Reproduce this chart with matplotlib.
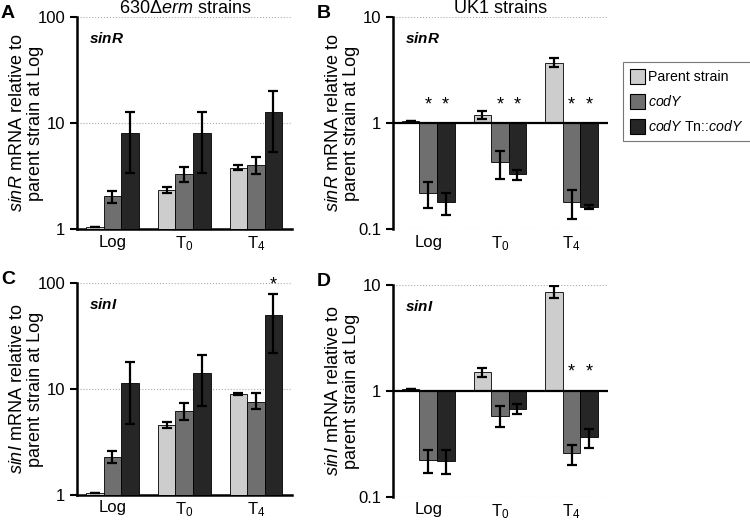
import matplotlib.pyplot as plt
import numpy as np
from matplotlib.patches import Patch

plt.rcParams['font.family'] = ['Liberation Sans', 'DejaVu Sans']
plt.rcParams['mathtext.fontset'] = 'custom'
plt.rcParams['mathtext.rm'] = 'Liberation Sans'
plt.rcParams['mathtext.it'] = 'Liberation Sans:italic'
plt.rcParams['mathtext.bf'] = 'Liberation Sans:bold:italic'

groups = ['Log', r'T$_{\mathregular{0}}$', r'T$_{\mathregular{4}}$']
strains = ['Parent strain', r'$\mathit{codY}$', r'$\mathit{codY}$ Tn::$\mathit{codY}$']
colors = ['#cdcdcd', '#6f6f6f', '#262626']

# panel A: 630derm sinR  (rows = strain, cols = Log, T0, T4)
a_val = [[1.05, 2.35, 3.8], [2.05, 3.3, 4.0], [8.1, 8.1, 12.8]]
a_lo = [[1.05, 2.2, 3.6], [1.75, 2.8, 3.3], [3.4, 3.4, 5.4]]
a_hi = [[1.05, 2.5, 4.05], [2.3, 3.9, 4.8], [12.8, 12.8, 20.2]]

# panel B: UK1 sinR
b_val = [[1.05, 1.2, 3.7], [0.22, 0.43, 0.18], [0.18, 0.33, 0.162]]
b_lo = [[1.05, 1.1, 3.4], [0.157, 0.30, 0.125], [0.135, 0.29, 0.155]]
b_hi = [[1.05, 1.3, 4.1], [0.28, 0.55, 0.235], [0.22, 0.36, 0.17]]
b_star = [[False, False, False], [True, True, True], [True, True, True]]

# panel C: 630derm sinI
c_val = [[1.05, 4.6, 9.0], [2.3, 6.2, 7.6], [11.4, 14.0, 50.0]]
c_lo = [[1.05, 4.3, 8.8], [2.0, 5.1, 6.5], [4.7, 6.9, 21.7]]
c_hi = [[1.05, 4.9, 9.2], [2.6, 7.3, 9.1], [18.0, 21.0, 78.0]]
c_star = [[False, False, False], [False, False, False], [False, False, True]]

# panel D: UK1 sinI
d_val = [[1.05, 1.5, 8.5], [0.223, 0.58, 0.26], [0.22, 0.68, 0.37]]
d_lo = [[1.05, 1.35, 7.6], [0.17, 0.46, 0.2], [0.165, 0.61, 0.29]]
d_hi = [[1.05, 1.65, 9.7], [0.28, 0.72, 0.31], [0.28, 0.76, 0.44]]
d_star = [[False, False, False], [False, False, True], [False, False, True]]


def panel(ax, val, lo, hi, stars, gene, ylim, letter, title=None):
    x = np.arange(len(groups))
    w = 0.245
    base = 1.0
    for i in range(3):
        xs = x + (i - 1) * w
        v = np.array(val[i])
        ax.bar(xs, v - base, bottom=base, width=w, color=colors[i],
               edgecolor='black', linewidth=0.6, zorder=3)
        err = [v - np.array(lo[i]), np.array(hi[i]) - v]
        ax.errorbar(xs, v, yerr=err, fmt='none', ecolor='black',
                    elinewidth=1.6, capsize=3.5, capthick=1.6, zorder=4)
        if stars is not None:
            for j in range(3):
                if stars[i][j]:
                    if v[j] < 1:
                        ys = 1.5
                    else:
                        ys = hi[i][j] * 1.22
                    ax.text(xs[j], ys, '*', ha='center', va='center', fontsize=13)
    ax.set_yscale('log')
    ax.set_ylim(*ylim)
    ax.set_xlim(-0.49, 2.51)
    ax.set_xticks(x)
    ax.set_xticklabels(groups, fontsize=12)
    ax.tick_params(axis='x', length=0, pad=4)
    ax.tick_params(axis='y', which='major', length=5, width=1.5, labelsize=12)
    ax.tick_params(axis='y', which='minor', length=0)
    ticks = [ylim[0], ylim[0] * 10, ylim[1]]
    ax.set_yticks(ticks)
    ax.set_yticklabels(['%g' % t for t in ticks])
    for t in ticks[1:]:
        if t != 1:
            ax.axhline(t, color='#aaaaaa', linestyle=':', linewidth=0.8, zorder=1)
    ax.spines['top'].set_visible(False)
    ax.spines['right'].set_visible(False)
    ax.spines['left'].set_linewidth(1.8)
    if ylim[0] < 1:
        ax.spines['bottom'].set_visible(False)
        ax.axhline(1, color='black', linewidth=1.6, zorder=5)
        ax.axhline(ylim[0], color='#aaaaaa', linestyle=':', linewidth=0.8, zorder=1)
    else:
        ax.spines['bottom'].set_linewidth(1.8)
    ax.set_ylabel(r'$\mathit{%s}$ mRNA relative to' % gene + '\nparent strain at Log',
                  fontsize=13, linespacing=1.05)
    ax.yaxis.set_label_coords(-0.155, 0.5)
    ax.text(0.055, 0.9, r'$\mathbf{%s}$' % gene, transform=ax.transAxes,
            fontsize=11, fontweight='bold', va='center')
    ax.text(-0.355, 1.018, letter, transform=ax.transAxes, fontsize=14,
            fontweight='bold', va='center', ha='left')
    if title:
        ax.set_title(title, fontsize=13, pad=3)


fig = plt.figure(figsize=(7.5, 5.22), dpi=100)
axA = fig.add_axes([0.103, 0.561, 0.287, 0.406])
axB = fig.add_axes([0.524, 0.561, 0.287, 0.406])
axC = fig.add_axes([0.103, 0.052, 0.287, 0.406])
axD = fig.add_axes([0.524, 0.048, 0.287, 0.406])

panel(axA, a_val, a_lo, a_hi, None, 'sinR', (1, 100), 'A',
      '630\u0394$\\mathit{erm}$ strains')
panel(axB, b_val, b_lo, b_hi, b_star, 'sinR', (0.1, 10), 'B', 'UK1 strains')
panel(axC, c_val, c_lo, c_hi, c_star, 'sinI', (1, 100), 'C')
panel(axD, d_val, d_lo, d_hi, d_star, 'sinI', (0.1, 10), 'D')

handles = [Patch(facecolor=colors[i], edgecolor='black', linewidth=0.8) for i in range(3)]
leg = fig.legend(handles, strains, loc='upper left', bbox_to_anchor=(0.831, 0.881),
                 fontsize=10.2, frameon=True, fancybox=False, edgecolor='#555555',
                 handlelength=1.0, handleheight=1.2, handletextpad=0.25,
                 labelspacing=0.7, borderpad=0.5, borderaxespad=0)
leg.get_frame().set_linewidth(0.8)

fig.savefig('out.png', dpi=100)
